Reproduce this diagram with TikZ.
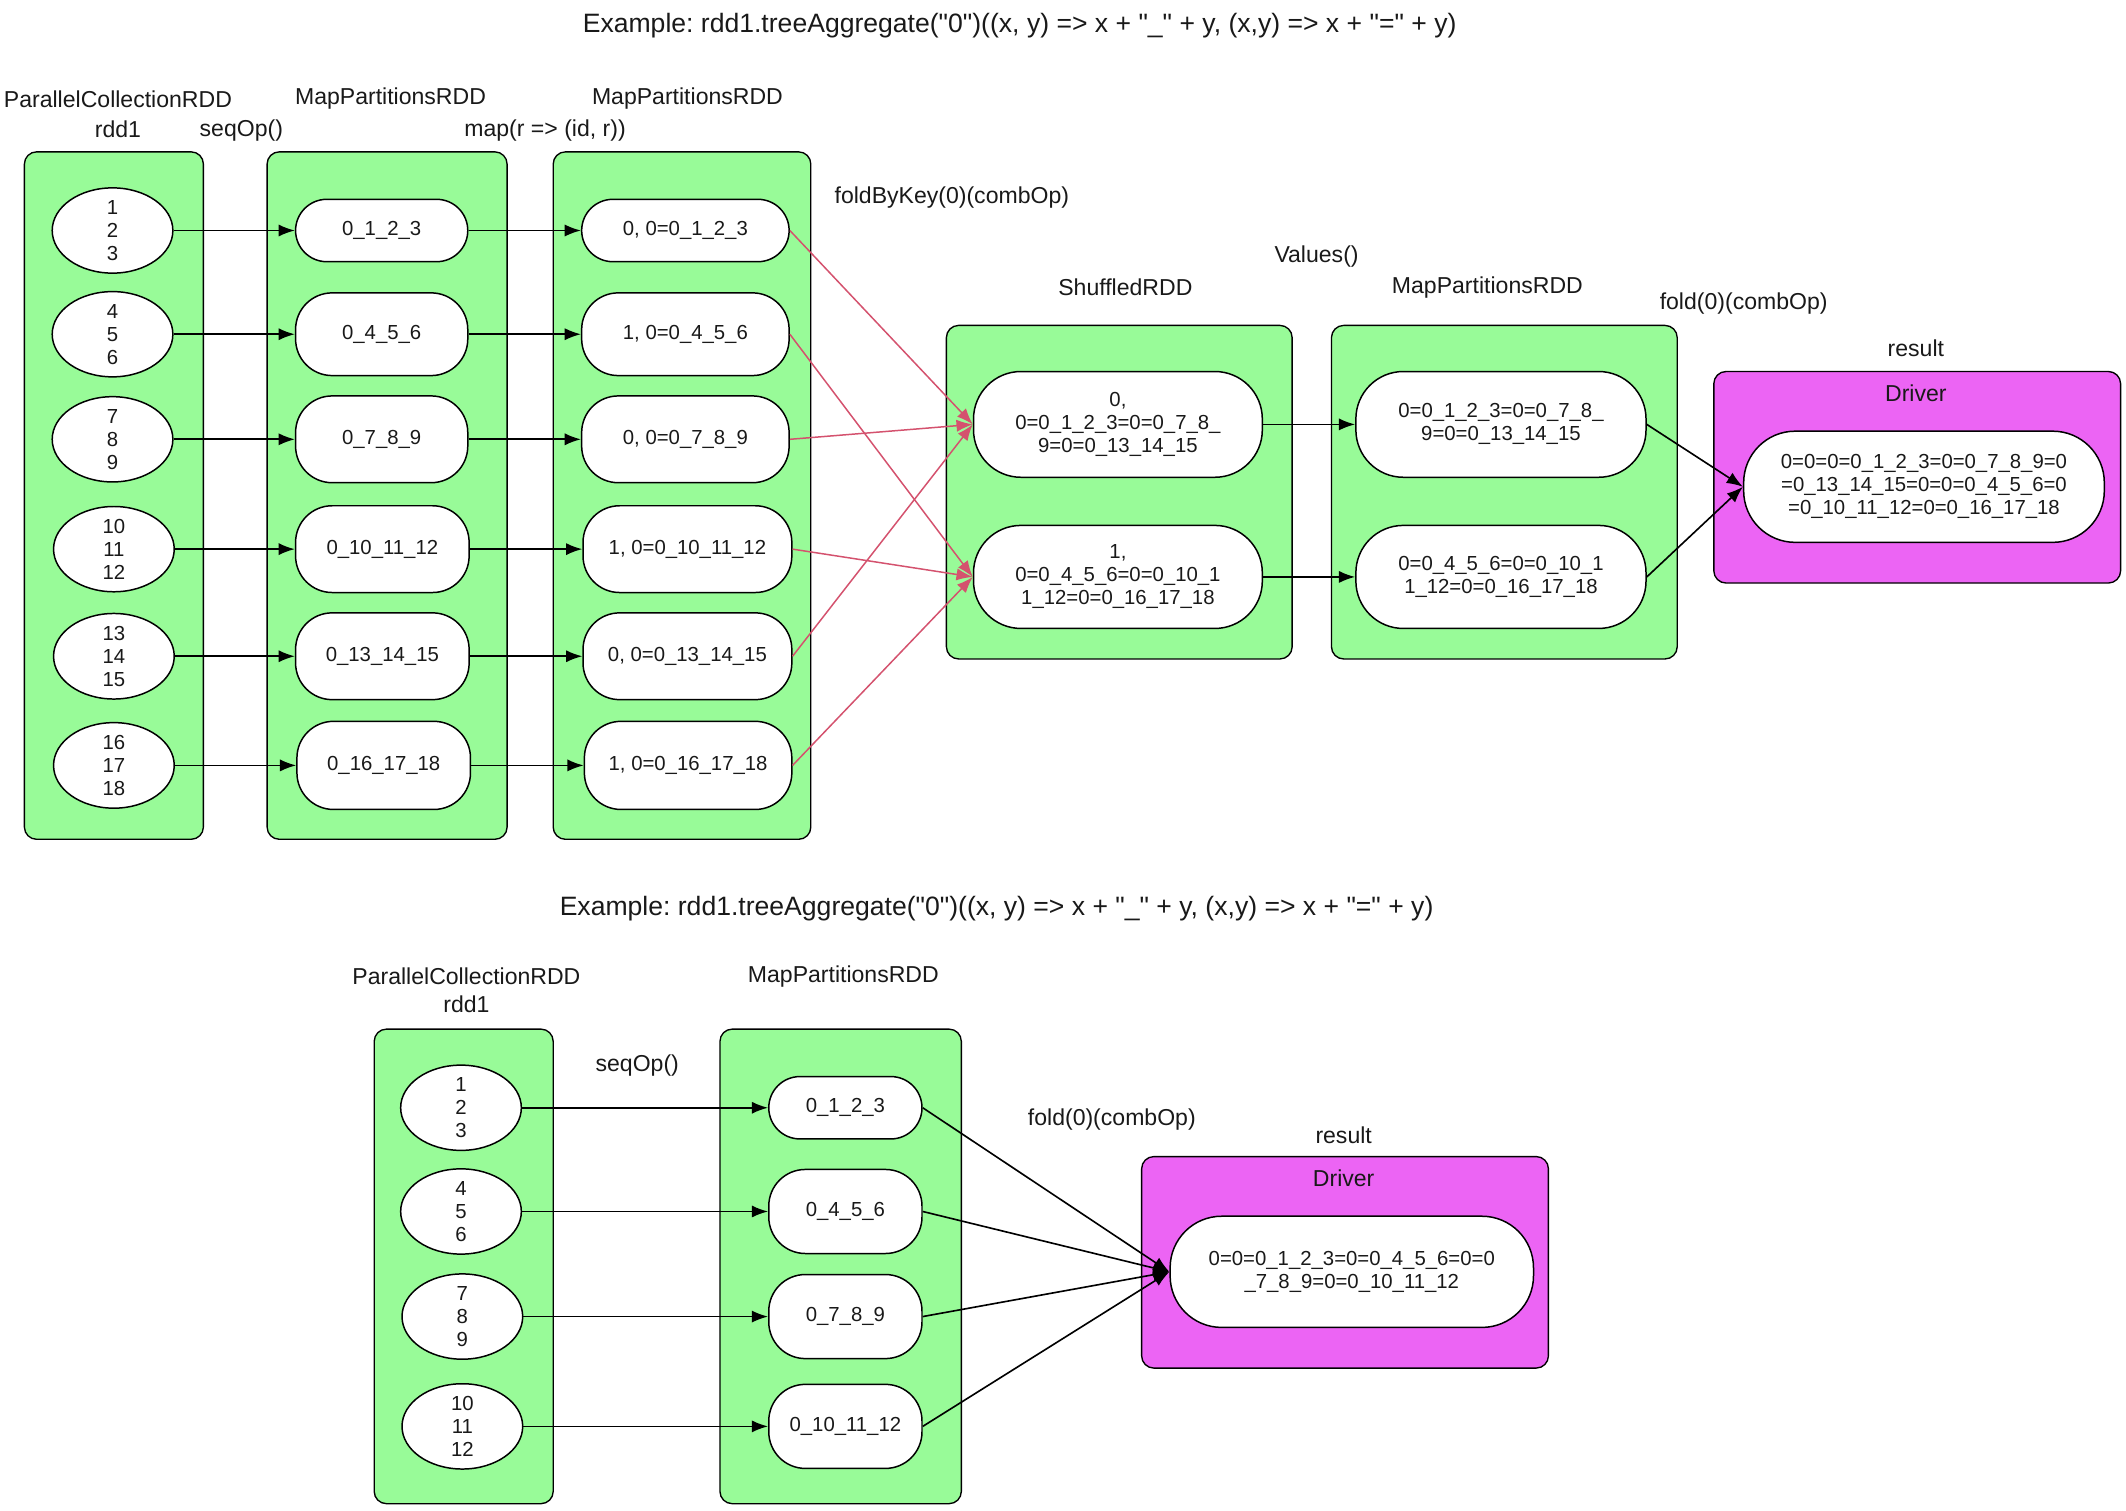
\documentclass[tikz,border=0pt]{standalone}
\usepackage{fontspec}
\setmainfont{Liberation Sans}[Ligatures=TeXOff]
\usetikzlibrary{shapes.geometric,arrows.meta}
\definecolor{pgreen}{HTML}{98FB98}
\definecolor{drv}{RGB}{236,100,244}
\definecolor{redge}{RGB}{212,82,110}
\definecolor{txt}{RGB}{25,25,25}
\newcommand{\nfont}{\fontsize{15}{17}\selectfont}
\newcommand{\lfont}{\fontsize{17}{20}\selectfont}
\newcommand{\tfont}{\fontsize{19.6}{22}\selectfont}
\newcommand{\qq}{\symbol{34}}
\frenchspacing
\begin{document}
\begin{tikzpicture}[x=1pt,y=-1pt,
  cluster/.style={draw, fill=pgreen, rounded corners=9pt, line width=1pt, inner sep=0pt},
  drvbox/.style={draw, fill=drv, rounded corners=9pt, line width=1pt, inner sep=0pt},
  ell/.style={draw, fill=white, ellipse, line width=1.1pt, inner sep=0pt, minimum width=89pt, minimum height=62pt, align=center, font=\nfont, text=txt},
  rbox/.style={draw, fill=white, line width=1.1pt, inner sep=0pt, align=center, font=\nfont, text=txt},
  lbl/.style={inner sep=0pt, font=\lfont, text=txt, align=center},
  ttl/.style={inner sep=0pt, font=\tfont, text=txt},
  arr/.style={-{Latex[length=12pt,width=9pt]}, line width=1.2pt},
  rarr/.style={arr, draw=redge, fill=redge, line width=1.1pt}
]
\useasboundingbox (0,0) rectangle (1568,1114);

% ================= TOP =================
\node[ttl] (t1) at (752,19) {Example: rdd1.treeAggregate(\qq0\qq)((x, y) => x + \qq\_\qq{} + y, (x,y) => x + \qq=\qq{} + y)};

\node[cluster, minimum width=132pt, minimum height=507pt] (c1) at (84,365.5) {};
\node[cluster, minimum width=177pt, minimum height=507pt] (c2) at (285.5,365.5) {};
\node[cluster, minimum width=190pt, minimum height=507pt] (c3) at (503,365.5) {};
\node[cluster, minimum width=255pt, minimum height=246pt] (c4) at (825.5,363) {};
\node[cluster, minimum width=255pt, minimum height=246pt] (c5) at (1109.5,363) {};
\node[drvbox, minimum width=300pt, minimum height=156pt] (d1) at (1414,352) {};

\node[lbl] (l1) at (87,73) {ParallelCollectionRDD};
\node[lbl] (l1b) at (87,95) {rdd1};
\node[lbl] (l2) at (288,73) {MapPartitionsRDD};
\node[lbl] (l2b) at (178,96) {seqOp()};
\node[lbl] (l3) at (507,73) {MapPartitionsRDD};
\node[lbl] (l3b) at (402,96) {map(r => (id, r))};
\node[lbl] (l4) at (702,146) {foldByKey(0)(combOp)};
\node[lbl] (l5) at (971,189) {Values()};
\node[lbl] (l6) at (830,212) {ShuffledRDD};
\node[lbl] (l7) at (1097,212) {MapPartitionsRDD};
\node[lbl] (l8) at (1286,224) {fold(0)(combOp)};
\node[lbl] (l9) at (1413,257) {result};
\node[lbl] (l10) at (1413,290) {Driver};

% column 1 ellipses
\node[ell] (e1) at (83,170) {1\\2\\3};
\node[ell] (e2) at (83,246.5) {4\\5\\6};
\node[ell] (e3) at (83,324) {7\\8\\9};
\node[ell] (e4) at (84,405) {10\\11\\12};
\node[ell] (e5) at (84,484) {13\\14\\15};
\node[ell] (e6) at (84,564.5) {16\\17\\18};

% column 2
\node[rbox, rounded corners=23pt, minimum width=127pt, minimum height=46pt] (m1) at (281.5,170) {0\_1\_2\_3};
\node[rbox, rounded corners=27pt, minimum width=127pt, minimum height=61pt] (m2) at (281.5,246.5) {0\_4\_5\_6};
\node[rbox, rounded corners=27pt, minimum width=127pt, minimum height=64pt] (m3) at (281.5,324) {0\_7\_8\_9};
\node[rbox, rounded corners=27pt, minimum width=128pt, minimum height=64pt] (m4) at (282,405) {0\_10\_11\_12};
\node[rbox, rounded corners=27pt, minimum width=128pt, minimum height=64pt] (m5) at (282,484) {0\_13\_14\_15};
\node[rbox, rounded corners=27pt, minimum width=128pt, minimum height=65pt] (m6) at (283,564.5) {0\_16\_17\_18};

% column 3
\node[rbox, rounded corners=23pt, minimum width=153pt, minimum height=46pt] (k1) at (505.5,170) {0, 0=0\_1\_2\_3};
\node[rbox, rounded corners=27pt, minimum width=153pt, minimum height=61pt] (k2) at (505.5,246.5) {1, 0=0\_4\_5\_6};
\node[rbox, rounded corners=27pt, minimum width=153pt, minimum height=64pt] (k3) at (505.5,324) {0, 0=0\_7\_8\_9};
\node[rbox, rounded corners=27pt, minimum width=154pt, minimum height=64pt] (k4) at (507,405) {1, 0=0\_10\_11\_12};
\node[rbox, rounded corners=27pt, minimum width=154pt, minimum height=64pt] (k5) at (507,484) {0, 0=0\_13\_14\_15};
\node[rbox, rounded corners=27pt, minimum width=153pt, minimum height=65pt] (k6) at (507.5,564.5) {1, 0=0\_16\_17\_18};

% shuffled
\node[rbox, rounded corners=35pt, minimum width=213pt, minimum height=78pt] (s0) at (824.5,313) {0,\\0=0\_1\_2\_3=0=0\_7\_8\_\\9=0=0\_13\_14\_15};
\node[rbox, rounded corners=35pt, minimum width=213pt, minimum height=76pt] (s1) at (824.5,425.5) {1,\\0=0\_4\_5\_6=0=0\_10\_1\\1\_12=0=0\_16\_17\_18};

% values
\node[rbox, rounded corners=35pt, minimum width=214pt, minimum height=78pt] (v0) at (1107,313) {0=0\_1\_2\_3=0=0\_7\_8\_\\9=0=0\_13\_14\_15};
\node[rbox, rounded corners=35pt, minimum width=214pt, minimum height=76pt] (v1) at (1107,425.5) {0=0\_4\_5\_6=0=0\_10\_1\\1\_12=0=0\_16\_17\_18};

% driver result
\node[rbox, rounded corners=38pt, minimum width=266pt, minimum height=82pt] (r1) at (1419,359) {0=0=0=0\_1\_2\_3=0=0\_7\_8\_9=0\\=0\_13\_14\_15=0=0=0\_4\_5\_6=0\\=0\_10\_11\_12=0=0\_16\_17\_18};

% edges
\foreach \i in {1,...,6} {
  \draw[arr] (e\i) -- (m\i);
  \draw[arr] (m\i) -- (k\i);
}
\foreach \i in {1,3,5} { \draw[rarr] (k\i.east) -- (s0.west); }
\foreach \i in {2,4,6} { \draw[rarr] (k\i.east) -- (s1.west); }
\draw[arr] (s0) -- (v0);
\draw[arr] (s1) -- (v1);
\draw[arr] (v0.east) -- (r1.west);
\draw[arr] (v1.east) -- (r1.west);

% ================= BOTTOM =================
\node[ttl] (t2) at (735,670) {Example: rdd1.treeAggregate(\qq0\qq)((x, y) => x + \qq\_\qq{} + y, (x,y) => x + \qq=\qq{} + y)};

\node[cluster, minimum width=132pt, minimum height=350pt] (b1) at (342,934) {};
\node[cluster, minimum width=178pt, minimum height=350pt] (b2) at (620,934) {};
\node[drvbox, minimum width=300pt, minimum height=156pt] (d2) at (992,931) {};

\node[lbl] (bl1) at (344,720) {ParallelCollectionRDD};
\node[lbl] (bl1b) at (344,741) {rdd1};
\node[lbl] (bl2) at (622,720) {MapPartitionsRDD};
\node[lbl] (bl3) at (470,786) {seqOp()};
\node[lbl] (bl4) at (820,826) {fold(0)(combOp)};
\node[lbl] (bl5) at (991,837) {result};
\node[lbl] (bl6) at (991,869) {Driver};

\node[ell] (be1) at (340,817) {1\\2\\3};
\node[ell] (be2) at (340,893.5) {4\\5\\6};
\node[ell] (be3) at (341,971) {7\\8\\9};
\node[ell] (be4) at (341,1052) {10\\11\\12};

\node[rbox, rounded corners=23pt, minimum width=113pt, minimum height=46pt] (bm1) at (623.5,817) {0\_1\_2\_3};
\node[rbox, rounded corners=27pt, minimum width=113pt, minimum height=62pt] (bm2) at (623.5,893.5) {0\_4\_5\_6};
\node[rbox, rounded corners=27pt, minimum width=113pt, minimum height=62pt] (bm3) at (623.5,971) {0\_7\_8\_9};
\node[rbox, rounded corners=27pt, minimum width=113pt, minimum height=62pt] (bm4) at (623.5,1052) {0\_10\_11\_12};

\node[rbox, rounded corners=38pt, minimum width=268pt, minimum height=82pt] (br) at (997,938) {0=0=0\_1\_2\_3=0=0\_4\_5\_6=0=0\\\_7\_8\_9=0=0\_10\_11\_12};

\foreach \i in {1,...,4} {
  \draw[arr] (be\i) -- (bm\i);
  \draw[arr] (bm\i.east) -- (br.west);
}
\end{tikzpicture}
\end{document}
